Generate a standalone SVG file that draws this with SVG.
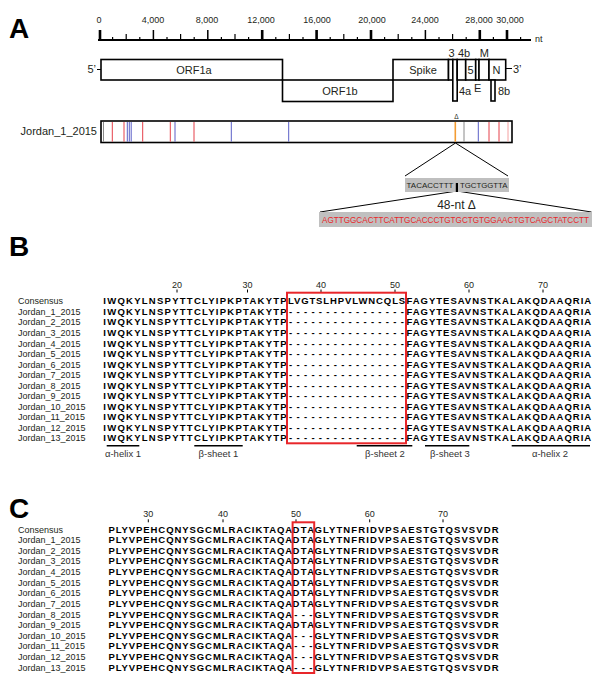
<svg xmlns="http://www.w3.org/2000/svg" width="600" height="683" viewBox="0 0 600 683">
<style>
text{font-family:"Liberation Sans",Arial,sans-serif;fill:#231f20}
.pl{font-size:28px;font-weight:bold;fill:#000}
.rl{font-size:9px;text-anchor:middle}
.gene{font-size:11px}
.mid{text-anchor:middle}
.box{fill:#fff;stroke:#000;stroke-width:1.6}
.lbl{font-size:9px}
.seq{font-size:9.5px;font-weight:bold;fill:#000}
.num{font-size:9px;text-anchor:middle}
.ann{font-size:9.5px;text-anchor:middle;fill:#333}
.tk{stroke:#000;stroke-width:1;fill:none}
.ln{stroke:#000;stroke-width:1;fill:none}
.hl{fill:none;stroke:#e8262a;stroke-width:2}
.mr{stroke:#e5404a;stroke-width:1}
.mb{stroke:#5b5fc7;stroke-width:1}
.mg{stroke:#8a8a8a;stroke-width:1}
.mo{stroke:#f39c33;stroke-width:1.6}
.ml{stroke:#f4a0a0;stroke-width:1}
</style>

<!-- Panel A -->
<text class="pl" x="9" y="38">A</text>

<g id="ruler">
  <line x1="98" y1="40" x2="531" y2="40" stroke="#000" stroke-width="2"/>
  <path d="M112.6 40V37M139.8 40V37M167 40V37M194.2 40V37M221.4 40V37M248.6 40V37M275.8 40V37M303 40V37M330.2 40V37M357.4 40V37M384.6 40V37M411.8 40V37M439 40V37M466.2 40V37M493.4 40V37M520.6 40V37" stroke="#000" stroke-width="1.2"/>
  <path d="M126.2 40V34M180.6 40V34M235 40V34M289.4 40V34M343.8 40V34M398.2 40V34M452.6 40V34" stroke="#000" stroke-width="1.2"/>
  <path d="M153.4 40V30M207.8 40V30M425.4 40V30" stroke="#000" stroke-width="1.5"/>
  <path d="M100 40V30M262.2 40V30M316.6 40V30M371 40V30M479.8 40V30M507 40V30" stroke="#000" stroke-width="2.6"/>
  <text class="rl" x="99" y="23">0</text>
  <text class="rl" x="153" y="23">4,000</text>
  <text class="rl" x="207" y="23">8,000</text>
  <text class="rl" x="261" y="23">12,000</text>
  <text class="rl" x="317" y="23">16,000</text>
  <text class="rl" x="372" y="23">20,000</text>
  <text class="rl" x="425" y="23">24,000</text>
  <text class="rl" x="479" y="23">28,000</text>
  <text class="rl" x="510" y="23">30,000</text>
  <text style="font-size:9px" x="535" y="42">nt</text>
</g>

<g id="genome">
  <line class="ln" x1="97" y1="69.5" x2="101" y2="69.5" stroke-width="1.4"/>
  <text class="gene" x="96" y="73" text-anchor="end">5’</text>
  <rect id="orf1a" class="box" x="101" y="59.5" width="181.5" height="20.5"/>
  <text class="gene mid" x="194" y="73.5">ORF1a</text>
  <rect id="orf1b" class="box" x="282.5" y="80" width="110.5" height="21.5"/>
  <text class="gene mid" x="340" y="95">ORF1b</text>
  <rect id="spike" class="box" x="393" y="59.5" width="55.5" height="20.5"/>
  <text class="gene mid" x="423" y="73.5">Spike</text>
  <rect id="g3" class="box" x="448.5" y="59.5" width="4.3" height="20.5"/>
  <text class="gene mid" x="451.5" y="56.5">3</text>
  <rect id="g4a" class="box" x="452.8" y="59.5" width="4.4" height="41.5"/>
  <text class="gene" x="459" y="95">4a</text>
  <rect id="g4b" class="box" x="457.2" y="59.5" width="8.5" height="20.5"/>
  <text class="gene mid" x="464" y="56.5">4b</text>
  <rect id="g5" class="box" x="465.7" y="59.5" width="10" height="20.5"/>
  <text class="gene mid" x="470.6" y="73.5">5</text>
  <rect id="gE" class="box" x="475.7" y="59.5" width="3.3" height="20.5"/>
  <text class="gene mid" x="477.7" y="92">E</text>
  <rect id="gM" class="box" x="479" y="59.5" width="10" height="20.5"/>
  <text class="gene mid" x="484.3" y="56.5">M</text>
  <rect id="gN" class="box" x="489" y="59.5" width="16.7" height="20.5"/>
  <text class="gene mid" x="496.4" y="73.5">N</text>
  <rect id="g8b" class="box" x="491" y="80" width="4" height="21"/>
  <text class="gene" x="498" y="95">8b</text>
  <line class="ln" x1="505.7" y1="68.5" x2="512" y2="68.5" stroke-width="1.4"/>
  <text class="gene" x="513" y="73">3’</text>
</g>

<g id="jordan1">
  <text class="gene" x="97" y="135" text-anchor="end">Jordan_1_2015</text>
  <rect class="box" x="101" y="121" width="411" height="21.5"/>
  <line class="mg" x1="103.5" y1="122" x2="103.5" y2="141.7"/>
  <line class="mr" x1="112.3" y1="122" x2="112.3" y2="141.7"/>
  <line class="mr" x1="124" y1="122" x2="124" y2="141.7"/>
  <line class="mb" x1="127.3" y1="122" x2="127.3" y2="141.7"/>
  <line class="mb" x1="129.3" y1="122" x2="129.3" y2="141.7"/>
  <line class="mb" x1="131.2" y1="122" x2="131.2" y2="141.7"/>
  <line class="mr" x1="142.7" y1="122" x2="142.7" y2="141.7" stroke-width="1.5"/>
  <line class="mr" x1="170.3" y1="122" x2="170.3" y2="141.7"/>
  <line class="mb" x1="175" y1="122" x2="175" y2="141.7"/>
  <line class="mr" x1="194" y1="122" x2="194" y2="141.7"/>
  <line class="mb" x1="231.3" y1="122" x2="231.3" y2="141.7"/>
  <line class="mb" x1="288.7" y1="122" x2="288.7" y2="141.7"/>
  <line class="mo" x1="455.3" y1="122" x2="455.3" y2="141.7"/>
  <line class="mg" x1="464" y1="122" x2="464" y2="141.7"/>
  <line class="mb" x1="478.3" y1="122" x2="478.3" y2="141.7"/>
  <line class="mr" x1="489" y1="122" x2="489" y2="141.7"/>
  <line class="mr" x1="499" y1="122" x2="499" y2="141.7"/>
  <line class="ml" x1="508" y1="122" x2="508" y2="141.7"/>
  <text x="456.3" y="118.5" style="font-size:6.5px" text-anchor="middle">Δ</text>
</g>

<g id="connectors">
  <path class="ln" d="M405 176L455.5 143L508 176"/>
  <path class="ln" d="M320 212L457 191L591.5 212"/>
</g>

<g id="deletion">
  <rect x="405" y="178" width="104" height="14" fill="#bfbfbf"/>
  <text x="406.5" y="188.3" style="font-size:8px" textLength="47" lengthAdjust="spacingAndGlyphs">TACACCTTT</text>
  <rect x="455.8" y="183" width="2.2" height="9" fill="#000"/>
  <text x="460" y="188.3" style="font-size:8px" textLength="47.5" lengthAdjust="spacingAndGlyphs">TGCTGGTTA</text>
  <text x="456.5" y="209.3" style="font-size:12px" text-anchor="middle">48-nt Δ</text>
  <rect x="319" y="212" width="273" height="15" fill="#c0c0c0"/>
  <text x="322" y="223" style="font-size:8.5px;fill:#e8262a" textLength="267" lengthAdjust="spacingAndGlyphs">AGTTGGCACTTCATTGCACCCTGTGCTGTGGAACTGTCAGCTATCCTT</text>
</g>

<!-- Panel B -->
<text class="pl" x="9" y="256">B</text>
<g id="B-scale">
  <text class="num" x="177" y="287.7">20</text>
  <text class="num" x="247.5" y="287.7">30</text>
  <text class="num" x="321" y="287.7">40</text>
  <text class="num" x="395" y="287.7">50</text>
  <text class="num" x="469" y="287.7">60</text>
  <text class="num" x="543" y="287.7">70</text>
  <path class="tk" d="M177 289.5V292.5M247.5 289.5V292.5M321 289.5V292.5M395 289.5V292.5M469 289.5V292.5M543 289.5V292.5"/>
</g>
<g id="B-labels">
  <text class="lbl" x="18" y="304.3">Consensus</text>
  <text class="lbl" x="18" y="314.85">Jordan_1_2015</text>
  <text class="lbl" x="18" y="325.4">Jordan_2_2015</text>
  <text class="lbl" x="18" y="335.95">Jordan_3_2015</text>
  <text class="lbl" x="18" y="346.5">Jordan_4_2015</text>
  <text class="lbl" x="18" y="357.05">Jordan_5_2015</text>
  <text class="lbl" x="18" y="367.6">Jordan_6_2015</text>
  <text class="lbl" x="18" y="378.15">Jordan_7_2015</text>
  <text class="lbl" x="18" y="388.7">Jordan_8_2015</text>
  <text class="lbl" x="18" y="399.25">Jordan_9_2015</text>
  <text class="lbl" x="18" y="409.8">Jordan_10_2015</text>
  <text class="lbl" x="18" y="420.35">Jordan_11_2015</text>
  <text class="lbl" x="18" y="430.9">Jordan_12_2015</text>
  <text class="lbl" x="18" y="441.45">Jordan_13_2015</text>
</g>
<g id="B-seqs">
  <g id="B-pre">
    <text class="seq" x="103.3" y="304.3" textLength="183.4" lengthAdjust="spacing">IWQKYLNSPYTTCLYIPKPTAKYTP</text>
    <text class="seq" x="103.3" y="314.85" textLength="183.4" lengthAdjust="spacing">IWQKYLNSPYTTCLYIPKPTAKYTP</text>
    <text class="seq" x="103.3" y="325.4" textLength="183.4" lengthAdjust="spacing">IWQKYLNSPYTTCLYIPKPTAKYTP</text>
    <text class="seq" x="103.3" y="335.95" textLength="183.4" lengthAdjust="spacing">IWQKYLNSPYTTCLYIPKPTAKYTP</text>
    <text class="seq" x="103.3" y="346.5" textLength="183.4" lengthAdjust="spacing">IWQKYLNSPYTTCLYIPKPTAKYTP</text>
    <text class="seq" x="103.3" y="357.05" textLength="183.4" lengthAdjust="spacing">IWQKYLNSPYTTCLYIPKPTAKYTP</text>
    <text class="seq" x="103.3" y="367.6" textLength="183.4" lengthAdjust="spacing">IWQKYLNSPYTTCLYIPKPTAKYTP</text>
    <text class="seq" x="103.3" y="378.15" textLength="183.4" lengthAdjust="spacing">IWQKYLNSPYTTCLYIPKPTAKYTP</text>
    <text class="seq" x="103.3" y="388.7" textLength="183.4" lengthAdjust="spacing">IWQKYLNSPYTTCLYIPKPTAKYTP</text>
    <text class="seq" x="103.3" y="399.25" textLength="183.4" lengthAdjust="spacing">IWQKYLNSPYTTCLYIPKPTAKYTP</text>
    <text class="seq" x="103.3" y="409.8" textLength="183.4" lengthAdjust="spacing">IWQKYLNSPYTTCLYIPKPTAKYTP</text>
    <text class="seq" x="103.3" y="420.35" textLength="183.4" lengthAdjust="spacing">IWQKYLNSPYTTCLYIPKPTAKYTP</text>
    <text class="seq" x="103.3" y="430.9" textLength="183.4" lengthAdjust="spacing">IWQKYLNSPYTTCLYIPKPTAKYTP</text>
    <text class="seq" x="103.3" y="441.45" textLength="183.4" lengthAdjust="spacing">IWQKYLNSPYTTCLYIPKPTAKYTP</text>
  </g>
  <g id="B-mid">
    <text class="seq" x="287.9" y="304.3" textLength="117.3" lengthAdjust="spacing">LVGTSLHPVLWNCQLS</text>
    <text class="seq" x="289.1" y="314.85" textLength="114.7" lengthAdjust="spacing">----------------</text>
    <text class="seq" x="289.1" y="325.4" textLength="114.7" lengthAdjust="spacing">----------------</text>
    <text class="seq" x="289.1" y="335.95" textLength="114.7" lengthAdjust="spacing">----------------</text>
    <text class="seq" x="289.1" y="346.5" textLength="114.7" lengthAdjust="spacing">----------------</text>
    <text class="seq" x="289.1" y="357.05" textLength="114.7" lengthAdjust="spacing">----------------</text>
    <text class="seq" x="289.1" y="367.6" textLength="114.7" lengthAdjust="spacing">----------------</text>
    <text class="seq" x="289.1" y="378.15" textLength="114.7" lengthAdjust="spacing">----------------</text>
    <text class="seq" x="289.1" y="388.7" textLength="114.7" lengthAdjust="spacing">----------------</text>
    <text class="seq" x="289.1" y="399.25" textLength="114.7" lengthAdjust="spacing">----------------</text>
    <text class="seq" x="289.1" y="409.8" textLength="114.7" lengthAdjust="spacing">----------------</text>
    <text class="seq" x="289.1" y="420.35" textLength="114.7" lengthAdjust="spacing">----------------</text>
    <text class="seq" x="289.1" y="430.9" textLength="114.7" lengthAdjust="spacing">----------------</text>
    <text class="seq" x="289.1" y="441.45" textLength="114.7" lengthAdjust="spacing">----------------</text>
  </g>
  <g id="B-post">
    <text class="seq" x="406.4" y="304.3" textLength="184.8" lengthAdjust="spacing">FAGYTESAVNSTKALAKQDAAQRIA</text>
    <text class="seq" x="406.4" y="314.85" textLength="184.8" lengthAdjust="spacing">FAGYTESAVNSTKALAKQDAAQRIA</text>
    <text class="seq" x="406.4" y="325.4" textLength="184.8" lengthAdjust="spacing">FAGYTESAVNSTKALAKQDAAQRIA</text>
    <text class="seq" x="406.4" y="335.95" textLength="184.8" lengthAdjust="spacing">FAGYTESAVNSTKALAKQDAAQRIA</text>
    <text class="seq" x="406.4" y="346.5" textLength="184.8" lengthAdjust="spacing">FAGYTESAVNSTKALAKQDAAQRIA</text>
    <text class="seq" x="406.4" y="357.05" textLength="184.8" lengthAdjust="spacing">FAGYTESAVNSTKALAKQDAAQRIA</text>
    <text class="seq" x="406.4" y="367.6" textLength="184.8" lengthAdjust="spacing">FAGYTESAVNSTKALAKQDAAQRIA</text>
    <text class="seq" x="406.4" y="378.15" textLength="184.8" lengthAdjust="spacing">FAGYTESAVNSTKALAKQDAAQRIA</text>
    <text class="seq" x="406.4" y="388.7" textLength="184.8" lengthAdjust="spacing">FAGYTESAVNSTKALAKQDAAQRIA</text>
    <text class="seq" x="406.4" y="399.25" textLength="184.8" lengthAdjust="spacing">FAGYTESAVNSTKALAKQDAAQRIA</text>
    <text class="seq" x="406.4" y="409.8" textLength="184.8" lengthAdjust="spacing">FAGYTESAVNSTKALAKQDAAQRIA</text>
    <text class="seq" x="406.4" y="420.35" textLength="184.8" lengthAdjust="spacing">FAGYTESAVNSTKALAKQDAAQRIA</text>
    <text class="seq" x="406.4" y="430.9" textLength="184.8" lengthAdjust="spacing">FAGYTESAVNSTKALAKQDAAQRIA</text>
    <text class="seq" x="406.4" y="441.45" textLength="184.8" lengthAdjust="spacing">FAGYTESAVNSTKALAKQDAAQRIA</text>
  </g>
  <rect class="hl" x="287" y="292.7" width="119" height="150.6"/>
</g>
<g id="B-annot">
  <path d="M106.7 445.8H139.3M194.3 445.8H242.7M356.7 445.8H412.3M425 445.8H469.3M511.7 445.8H590" stroke="#000" stroke-width="1.5" fill="none"/>
  <text class="ann" x="123" y="457.3">α-helix 1</text>
  <text class="ann" x="218.5" y="457.3">β-sheet 1</text>
  <text class="ann" x="385" y="457.3">β-sheet 2</text>
  <text class="ann" x="450" y="457.3">β-sheet 3</text>
  <text class="ann" x="550" y="457.3">α-helix 2</text>
</g>

<!-- Panel C -->
<text class="pl" x="9" y="518">C</text>
<g id="C-scale">
  <text class="num" x="148.3" y="517.3">30</text>
  <text class="num" x="223" y="517.3">40</text>
  <text class="num" x="296" y="517.3">50</text>
  <text class="num" x="369.7" y="517.3">60</text>
  <text class="num" x="443" y="517.3">70</text>
  <path class="tk" d="M148.3 519.3V522.3M223 519.3V522.3M296 519.3V522.3M369.7 519.3V522.3M443 519.3V522.3"/>
</g>
<g id="C-labels">
  <text class="lbl" x="18" y="532.5">Consensus</text>
  <text class="lbl" x="18" y="543.1">Jordan_1_2015</text>
  <text class="lbl" x="18" y="553.75">Jordan_2_2015</text>
  <text class="lbl" x="18" y="564.4">Jordan_3_2015</text>
  <text class="lbl" x="18" y="575">Jordan_4_2015</text>
  <text class="lbl" x="18" y="585.6">Jordan_5_2015</text>
  <text class="lbl" x="18" y="596.25">Jordan_6_2015</text>
  <text class="lbl" x="18" y="606.9">Jordan_7_2015</text>
  <text class="lbl" x="18" y="617.5">Jordan_8_2015</text>
  <text class="lbl" x="18" y="628.1">Jordan_9_2015</text>
  <text class="lbl" x="18" y="638.75">Jordan_10_2015</text>
  <text class="lbl" x="18" y="649.4">Jordan_11_2015</text>
  <text class="lbl" x="18" y="660">Jordan_12_2015</text>
  <text class="lbl" x="18" y="670.6">Jordan_13_2015</text>
</g>
<g id="C-seqs">
  <g id="C-pre">
    <text class="seq" x="108.4" y="532.5" textLength="183.8" lengthAdjust="spacing">PLYVPEHCQNYSGCMLRACIKTAQA</text>
    <text class="seq" x="108.4" y="543.1" textLength="183.8" lengthAdjust="spacing">PLYVPEHCQNYSGCMLRACIKTAQA</text>
    <text class="seq" x="108.4" y="553.75" textLength="183.8" lengthAdjust="spacing">PLYVPEHCQNYSGCMLRACIKTAQA</text>
    <text class="seq" x="108.4" y="564.4" textLength="183.8" lengthAdjust="spacing">PLYVPEHCQNYSGCMLRACIKTAQA</text>
    <text class="seq" x="108.4" y="575" textLength="183.8" lengthAdjust="spacing">PLYVPEHCQNYSGCMLRACIKTAQA</text>
    <text class="seq" x="108.4" y="585.6" textLength="183.8" lengthAdjust="spacing">PLYVPEHCQNYSGCMLRACIKTAQA</text>
    <text class="seq" x="108.4" y="596.25" textLength="183.8" lengthAdjust="spacing">PLYVPEHCQNYSGCMLRACIKTAQA</text>
    <text class="seq" x="108.4" y="606.9" textLength="183.8" lengthAdjust="spacing">PLYVPEHCQNYSGCMLRACIKTAQA</text>
    <text class="seq" x="108.4" y="617.5" textLength="183.8" lengthAdjust="spacing">PLYVPEHCQNYSGCMLRACIKTAQA</text>
    <text class="seq" x="108.4" y="628.1" textLength="183.8" lengthAdjust="spacing">PLYVPEHCQNYSGCMLRACIKTAQA</text>
    <text class="seq" x="108.4" y="638.75" textLength="183.8" lengthAdjust="spacing">PLYVPEHCQNYSGCMLRACIKTAQA</text>
    <text class="seq" x="108.4" y="649.4" textLength="183.8" lengthAdjust="spacing">PLYVPEHCQNYSGCMLRACIKTAQA</text>
    <text class="seq" x="108.4" y="660" textLength="183.8" lengthAdjust="spacing">PLYVPEHCQNYSGCMLRACIKTAQA</text>
    <text class="seq" x="108.4" y="670.6" textLength="183.8" lengthAdjust="spacing">PLYVPEHCQNYSGCMLRACIKTAQA</text>
  </g>
  <g id="C-mid">
    <text class="seq" x="292.6" y="532.5" textLength="21.6" lengthAdjust="spacing">DTA</text>
    <text class="seq" x="292.6" y="543.1" textLength="21.6" lengthAdjust="spacing">DTA</text>
    <text class="seq" x="292.6" y="553.75" textLength="21.6" lengthAdjust="spacing">DTA</text>
    <text class="seq" x="292.6" y="564.4" textLength="21.6" lengthAdjust="spacing">DTA</text>
    <text class="seq" x="292.6" y="575" textLength="21.6" lengthAdjust="spacing">DTA</text>
    <text class="seq" x="292.6" y="585.6" textLength="21.6" lengthAdjust="spacing">DTA</text>
    <text class="seq" x="292.6" y="596.25" textLength="21.6" lengthAdjust="spacing">DTA</text>
    <text class="seq" x="292.6" y="606.9" textLength="21.6" lengthAdjust="spacing">DTA</text>
    <text class="seq" x="294.3" y="617.5" textLength="18.2" lengthAdjust="spacing">---</text>
    <text class="seq" x="292.6" y="628.1" textLength="21.6" lengthAdjust="spacing">DTA</text>
    <text class="seq" x="294.3" y="638.75" textLength="18.2" lengthAdjust="spacing">---</text>
    <text class="seq" x="294.3" y="649.4" textLength="18.2" lengthAdjust="spacing">---</text>
    <text class="seq" x="294.3" y="660" textLength="18.2" lengthAdjust="spacing">---</text>
    <text class="seq" x="294.3" y="670.6" textLength="18.2" lengthAdjust="spacing">---</text>
  </g>
  <g id="C-post">
    <text class="seq" x="314.4" y="532.5" textLength="184.2" lengthAdjust="spacing">GLYTNFRIDVPSAESTGTQSVSVDR</text>
    <text class="seq" x="314.4" y="543.1" textLength="184.2" lengthAdjust="spacing">GLYTNFRIDVPSAESTGTQSVSVDR</text>
    <text class="seq" x="314.4" y="553.75" textLength="184.2" lengthAdjust="spacing">GLYTNFRIDVPSAESTGTQSVSVDR</text>
    <text class="seq" x="314.4" y="564.4" textLength="184.2" lengthAdjust="spacing">GLYTNFRIDVPSAESTGTQSVSVDR</text>
    <text class="seq" x="314.4" y="575" textLength="184.2" lengthAdjust="spacing">GLYTNFRIDVPSAESTGTQSVSVDR</text>
    <text class="seq" x="314.4" y="585.6" textLength="184.2" lengthAdjust="spacing">GLYTNFRIDVPSAESTGTQSVSVDR</text>
    <text class="seq" x="314.4" y="596.25" textLength="184.2" lengthAdjust="spacing">GLYTNFRIDVPSAESTGTQSVSVDR</text>
    <text class="seq" x="314.4" y="606.9" textLength="184.2" lengthAdjust="spacing">GLYTNFRIDVPSAESTGTQSVSVDR</text>
    <text class="seq" x="314.4" y="617.5" textLength="184.2" lengthAdjust="spacing">GLYTNFRIDVPSAESTGTQSVSVDR</text>
    <text class="seq" x="314.4" y="628.1" textLength="184.2" lengthAdjust="spacing">GLYTNFRIDVPSAESTGTQSVSVDR</text>
    <text class="seq" x="314.4" y="638.75" textLength="184.2" lengthAdjust="spacing">GLYTNFRIDVPSAESTGTQSVSVDR</text>
    <text class="seq" x="314.4" y="649.4" textLength="184.2" lengthAdjust="spacing">GLYTNFRIDVPSAESTGTQSVSVDR</text>
    <text class="seq" x="314.4" y="660" textLength="184.2" lengthAdjust="spacing">GLYTNFRIDVPSAESTGTQSVSVDR</text>
    <text class="seq" x="314.4" y="670.6" textLength="184.2" lengthAdjust="spacing">GLYTNFRIDVPSAESTGTQSVSVDR</text>
  </g>
  <rect class="hl" x="292.6" y="522.3" width="21.6" height="150.7"/>
</g>
</svg>
